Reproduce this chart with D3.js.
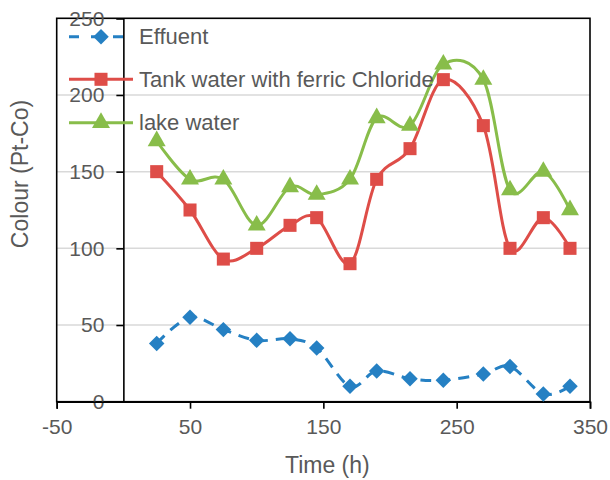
<!DOCTYPE html>
<html><head><meta charset="utf-8">
<script src="https://cdn.jsdelivr.net/npm/d3@7"></script>
<style>body{margin:0;background:#fff}svg{display:block}text{font-family:"Liberation Sans",Arial,sans-serif;fill:#595959}</style>
</head><body><svg id="c" width="610" height="480"></svg>
<script>
const timeH = [25,50,75,100,125,145,170,190,215,240,270,290,315,335];
const effluent = [38,55,47,40,41,35,10,20,15,14,18,23,5,10];
const tankFeCl = [150,125,93,100,115,120,90,145,165,210,180,100,120,100];
const lakeWater = [170,145,145,115,140,135,145,185,180,220,210,138,150,125];
const xTicks = [-50,50,150,250,350];
const yTicks = [0,50,100,150,200,250];
const seriesNames = ["Effuent","Tank water with ferric Chloride","lake water"];
const seriesColors = ["#2580C3","#DE4D48","#88BD4A"];

const svg = d3.select("#c");
const x = d3.scaleLinear().domain([-50,350]).range([56.7,590]);
const y = d3.scaleLinear().domain([0,250]).range([401.7,18.3]);

// gridlines
svg.append("g").selectAll("line").data(yTicks.filter(d=>d>0&&d<250)).join("line")
  .attr("x1",x(-50)).attr("x2",x(350)).attr("y1",d=>y(d)).attr("y2",d=>y(d))
  .attr("stroke","#d9d9d9").attr("stroke-width",1.5);

// frame
svg.append("rect").attr("x",x(-50)).attr("y",y(250)).attr("width",x(350)-x(-50)).attr("height",y(0)-y(250))
  .attr("fill","none").attr("stroke","#000").attr("stroke-width",1.6);

// y axis at x=0
const yAxis = d3.axisLeft(y).tickValues(yTicks).tickSize(7).tickPadding(12).tickFormat(d=>String(d));
const gy = svg.append("g").attr("transform",`translate(${x(0)},0)`).call(yAxis);
gy.select(".domain").attr("stroke","#000").attr("stroke-width",1.6);
gy.selectAll(".tick line").attr("stroke","#000").attr("stroke-width",1.6);
gy.selectAll(".tick text").attr("font-size",21).attr("fill","#595959").attr("font-family","Liberation Sans, Arial, sans-serif");

// x axis at y=0
const xAxis = d3.axisBottom(x).tickValues(xTicks).tickSize(7).tickPadding(10).tickFormat(d=>String(d));
const gx = svg.append("g").attr("transform",`translate(0,${y(0)})`).call(xAxis);
gx.select(".domain").attr("stroke","#000").attr("stroke-width",1.6);
gx.selectAll(".tick line").attr("stroke","#000").attr("stroke-width",1.6);
gx.selectAll(".tick text").attr("font-size",21).attr("fill","#595959").attr("font-family","Liberation Sans, Arial, sans-serif");

// titles
svg.append("text").attr("x",x(150)+4).attr("y",473).attr("text-anchor","middle").attr("font-size",23).text("Time (h)");
svg.append("text").attr("transform","translate(28,174) rotate(-90)").attr("text-anchor","middle").attr("font-size",23).text("Colour (Pt-Co)");

const seriesData = [effluent, tankFeCl, lakeWater];
const line = d3.line().x(d=>x(d[0])).y(d=>y(d[1])).curve(d3.curveCardinal.tension(0));
const symbols = [d3.symbolSquare, d3.symbolSquare, d3.symbolTriangle];
const symSizes = [120, 170, 140];
const symRot = [45, 0, 0];

seriesData.forEach((vals,i)=>{
  const pts = timeH.map((t,j)=>[t,vals[j]]);
  const g = svg.append("g");
  g.append("path").attr("d",line(pts)).attr("fill","none").attr("stroke",seriesColors[i])
    .attr("stroke-width",3).attr("stroke-linecap",i===0?"butt":"round")
    .attr("stroke-dasharray",i===0?"11,8":null);
  g.selectAll("path.m").data(pts).join("path").attr("class","m")
    .attr("transform",d=>`translate(${x(d[0])},${y(d[1])}) rotate(${symRot[i]})`)
    .attr("d",d3.symbol().type(symbols[i]).size(symSizes[i])).attr("fill",seriesColors[i]);
});

// legend
const legY = [36.7,79.3,122.7];
seriesNames.forEach((n,i)=>{
  const g = svg.append("g");
  g.append("line").attr("x1",69).attr("x2",133).attr("y1",legY[i]).attr("y2",legY[i])
    .attr("stroke",seriesColors[i]).attr("stroke-width",3)
    .attr("stroke-dasharray",i===0?"10,12":null);
  g.append("path").attr("transform",`translate(101,${legY[i]}) rotate(${symRot[i]})`)
    .attr("d",d3.symbol().type(symbols[i]).size(symSizes[i])).attr("fill",seriesColors[i]);
  g.append("text").attr("x",139).attr("y",legY[i]+7.5).attr("font-size",22).text(n);
});
</script></body></html>
